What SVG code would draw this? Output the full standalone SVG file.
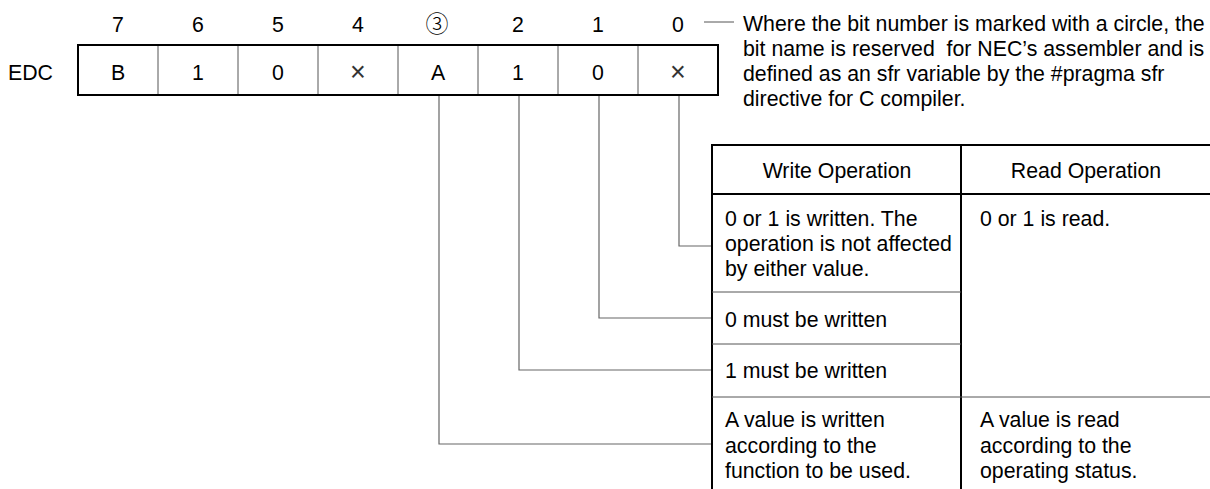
<svg xmlns="http://www.w3.org/2000/svg" width="1210" height="489" viewBox="0 0 1210 489">
<style>
text{font-family:"Liberation Sans","DejaVu Sans",Arial,sans-serif;font-size:21.3px;fill:#000}
.c{text-anchor:middle}
.circ{font-family:"Noto Sans CJK JP","DejaVu Sans",sans-serif;font-size:23px;font-weight:300}
.x{fill:#333;font-size:27px}
.thick{stroke:#000;stroke-width:2;fill:none}
.thin{stroke:#555;stroke-width:1;fill:none}
.conn{stroke:#666;stroke-width:1.2;fill:none}
</style>
<rect width="1210" height="489" fill="#fff"/>
<g id="bit-numbers">
<text class="c" x="118" y="32">7</text>
<text class="c" x="198" y="32">6</text>
<text class="c" x="278" y="32">5</text>
<text class="c" x="358" y="32">4</text>
<text class="c circ" x="437" y="32">③</text>
<text class="c" x="518" y="32">2</text>
<text class="c" x="598" y="32">1</text>
<text class="c" x="678" y="32">0</text>
</g>
<g id="register-label"><text x="8" y="80">EDC</text></g>
<g id="register">
<line class="thin" x1="158" y1="45" x2="158" y2="95"/>
<line class="thin" x1="238" y1="45" x2="238" y2="95"/>
<line class="thin" x1="318" y1="45" x2="318" y2="95"/>
<line class="thin" x1="398" y1="45" x2="398" y2="95"/>
<line class="thin" x1="478" y1="45" x2="478" y2="95"/>
<line class="thin" x1="558" y1="45" x2="558" y2="95"/>
<line class="thin" x1="638" y1="45" x2="638" y2="95"/>
<rect class="thick" x="78" y="45" width="640" height="50"/>
<text class="c" x="118" y="80">B</text>
<text class="c" x="198" y="80">1</text>
<text class="c" x="278" y="80">0</text>
<text class="c x" x="358" y="81">×</text>
<text class="c" x="438" y="80">A</text>
<text class="c" x="518" y="80">1</text>
<text class="c" x="598" y="80">0</text>
<text class="c x" x="678" y="81">×</text>
</g>
<g id="note">
<line class="thin" x1="704" y1="22" x2="734" y2="22"/>
<text x="743" y="31">Where the bit number is marked with a circle, the</text>
<text x="743" y="56" xml:space="preserve">bit name is reserved  for NEC’s assembler and is</text>
<text x="743" y="81">defined as an sfr variable by the #pragma sfr</text>
<text x="743" y="106">directive for C compiler.</text>
</g>
<g id="connectors">
<polyline class="conn" points="679,96 679,246 712,246"/>
<polyline class="conn" points="599,96 599,318 712,318"/>
<polyline class="conn" points="519,96 519,370 712,370"/>
<polyline class="conn" points="439,96 439,444 712,444"/>
</g>
<g id="table">
<line class="thick" x1="712" y1="145" x2="1210" y2="145"/>
<line class="thick" x1="712" y1="194" x2="1210" y2="194"/>
<line class="thick" x1="712" y1="144" x2="712" y2="489"/>
<line class="thick" x1="961" y1="144" x2="961" y2="489"/>
<line class="thin" x1="712" y1="292" x2="961" y2="292"/>
<line class="thin" x1="712" y1="344" x2="961" y2="344"/>
<line class="thin" x1="712" y1="397" x2="1210" y2="397"/>
<text class="c" x="837" y="178">Write Operation</text>
<text class="c" x="1086" y="178">Read Operation</text>
<text x="725" y="226">0 or 1 is written. The</text>
<text x="725" y="251">operation is not affected</text>
<text x="725" y="276">by either value.</text>
<text x="725" y="327">0 must be written</text>
<text x="725" y="378">1 must be written</text>
<text x="725" y="427">A value is written</text>
<text x="725" y="453">according to the</text>
<text x="725" y="478">function to be used.</text>
<text x="980" y="226">0 or 1 is read.</text>
<text x="980" y="427">A value is read</text>
<text x="980" y="453">according to the</text>
<text x="980" y="478">operating status.</text>
</g>
</svg>
